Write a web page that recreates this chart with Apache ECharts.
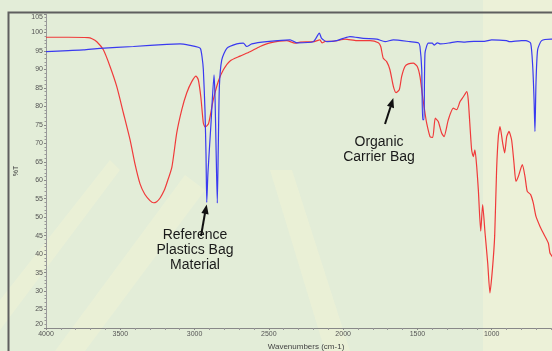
<!DOCTYPE html>
<html>
<head>
<meta charset="utf-8">
<script src="https://cdn.jsdelivr.net/npm/echarts@6/dist/echarts.min.js"></script>
<style>
html,body{margin:0;padding:0;background:#e3edd8;}
#chart{width:552px;height:351px;}
</style>
</head>
<body>
<div id="chart"></div>
<script>
// Wavenumber (cm-1), %T
var organicCarrierBag = [
  [4000,98.7],[3850,98.7],[3717,98.6],[3690,98.3],[3658,97.5],[3614,95.3],[3569,90.8],[3524,85.4],
  [3479,78.2],[3434,70.9],[3400,64.2],[3367,59.0],[3335,56.2],[3300,54.5],[3277,53.9],[3255,54.2],
  [3232,55.2],[3205,57.2],[3187,59.2],[3153,63.5],[3120,72.8],[3086,79.1],[3053,83.6],[3019,86.7],
  [2990,88.2],[2975,87.2],[2958,82.6],
  [2941,75.5],[2929,74.4],[2907,75.2],[2891,78.2],[2874,81.8],[2840,86.8],[2806,89.9],[2761,92.3],
  [2694,93.6],[2627,94.8],[2559,96.2],[2492,97.2],[2380,97.8],[2324,97.1],[2290,97.4],[2201,97.5],
  [2156,98.0],[2142,97.2],[2120,97.6],[2066,97.6],[1987,98.2],[1909,97.8],[1819,97.8],[1763,97.2],
  [1747,96.2],[1730,93.0],[1707,92.1],[1685,89.9],[1662,85.4],[1644,83.7],[1622,84.5],[1606,88.1],
  [1584,90.8],[1561,91.5],[1528,91.7],[1501,90.8],[1483,88.1],[1465,82.6],[1449,78.2],[1438,75.5],
  [1415,71.8],[1397,71.6],[1380,76.8],[1360,75.9],[1337,72.8],[1321,71.8],[1292,76.4],[1259,79.5],
  [1236,79.1],[1213,81.3],[1191,82.6],[1168,84.0],[1158,81.8],[1146,74.5],[1135,68.2],[1124,66.4],
  [1113,68.2],[1101,63.7],[1090,57.4],[1074,46.2],[1061,53.4],[1045,45.8],[1027,37.6],[1012,29.5],
  [995,36.0],[980,45.0],[967,63.0],[955,72.0],[944,74.5],[926,70.0],[913,67.4],[899,71.8],
  [884,73.2],[866,70.9],[850,64.6],[837,59.7],[821,61.0],[794,64.2],[776,61.0],[761,57.0],
  [738,56.1],[720,53.8],[702,50.2],[675,47.5],[653,45.7],[619,43.0],[608,40.3],[594,39.4],[570,38.0]
];
var referencePlasticsBag = [
  [4000,94.8],[3850,95.1],[3748,95.3],[3636,95.7],[3412,96.2],[3187,96.8],[3098,96.9],[3030,96.5],
  [2975,96.0],[2960,95.6],[2950,93.5],[2941,90.0],[2930,79.0],[2923,67.0],[2918,54.0],[2910,62.0],
  [2890,75.0],[2869,88.5],[2862,82.0],[2855,68.0],[2847,53.8],[2840,70.0],[2833,85.4],[2817,92.6],
  [2783,95.7],[2716,96.9],[2672,97.1],[2649,96.2],[2615,96.9],[2514,97.5],[2357,98.0],[2312,97.2],
  [2201,97.5],[2160,99.8],[2145,98.4],[2110,97.5],[2043,97.8],[1999,98.4],[1954,98.9],[1864,98.4],
  [1774,98.2],[1718,97.5],[1662,98.0],[1550,97.5],[1494,97.2],[1483,96.2],[1471,89.9],[1465,76.4],
  [1456,76.4],[1449,94.4],[1427,97.1],[1400,97.1],[1388,96.6],[1365,97.2],[1345,96.9],[1280,97.2],
  [1230,97.5],[1180,97.4],[1120,97.6],[1050,97.6],[1000,98.0],[900,97.8],[880,97.5],[800,97.8],
  [770,97.8],[738,97.1],[724,90.8],[715,81.8],[709,73.2],[702,86.3],[691,95.3],[664,97.8],[600,98.2],[560,98.2]
];
var yTicks = [20,105,5];
var xTicks = [500,4000,500];

var chart = echarts.init(document.getElementById('chart'), null, {renderer:'canvas'});
var labelFont = {fontFamily:'Liberation Sans, Arial, sans-serif', fontSize:7, color:'#555'};
var annFont = '14px "Liberation Sans", Arial, sans-serif';
function plain(v){ return String(v); }
chart.setOption({
  backgroundColor:'#e3edd8',
  animation:false,
  graphic:[
    {type:'rect', z:-10, silent:true, shape:{x:483,y:0,width:80,height:351}, style:{fill:'rgba(245,245,215,0.5)'}},
    {type:'polygon', z:-10, silent:true, shape:{points:[[0,300],[0,330],[120,170],[110,160]]}, style:{fill:'rgba(246,246,212,0.4)'}},
    {type:'polygon', z:-10, silent:true, shape:{points:[[55,351],[85,351],[205,190],[185,175]]}, style:{fill:'rgba(246,246,212,0.4)'}},
    {type:'polygon', z:-10, silent:true, shape:{points:[[270,170],[292,170],[350,351],[325,351]]}, style:{fill:'rgba(246,246,212,0.4)'}},
    {type:'rect', z:-5, silent:true, shape:{x:8.5,y:12.5,width:600,height:400}, style:{fill:'none', stroke:'#5f5f5f', lineWidth:2}},
    {type:'text', z:50, style:{text:'Reference\nPlastics Bag\nMaterial', x:195, y:250, textAlign:'center', textVerticalAlign:'middle', font:annFont, fill:'#1a1a1a', lineHeight:15}},
    {type:'polyline', z:50, shape:{points:[[201,236],[205,213]]}, style:{stroke:'#111', lineWidth:2}},
    {type:'polygon', z:50, shape:{points:[[206.7,204.5],[208.6,214.5],[201.4,213.1]]}, style:{fill:'#111'}},
    {type:'text', z:50, style:{text:'Organic\nCarrier Bag', x:379, y:149.5, textAlign:'center', textVerticalAlign:'middle', font:annFont, fill:'#1a1a1a', lineHeight:15.5}},
    {type:'polyline', z:50, shape:{points:[[385,124],[390.5,107]]}, style:{stroke:'#111', lineWidth:2}},
    {type:'polygon', z:50, shape:{points:[[393.3,98],[394,108.2],[387,105.8]]}, style:{fill:'#111'}}
  ],
  grid:{left:46, top:14, width:520, height:314, containLabel:false, outerBoundsMode:'none'},
  xAxis:{
    type:'value', inverse:true, min:xTicks[0], max:xTicks[1], interval:xTicks[2],
    name:'Wavenumbers (cm-1)', nameLocation:'middle', nameGap:13,
    nameTextStyle:{fontFamily:'Liberation Sans, Arial, sans-serif', fontSize:8, color:'#444'},
    axisLine:{show:true, onZero:false, lineStyle:{color:'#888', width:1}},
    axisTick:{show:true, length:2, inside:false, lineStyle:{color:'#888'}},
    minorTick:{show:true, splitNumber:5, length:2, lineStyle:{color:'#999'}},
    splitLine:{show:false},
    axisLabel:Object.assign({margin:3, formatter:plain}, labelFont)
  },
  yAxis:{
    type:'value', min:yTicks[0], max:yTicks[1], interval:yTicks[2],
    name:'%T', nameLocation:'middle', nameGap:26, nameRotate:90,
    nameTextStyle:{fontFamily:'Liberation Sans, Arial, sans-serif', fontSize:7, color:'#444'},
    axisLine:{show:true, lineStyle:{color:'#999', width:1}},
    axisTick:{show:true, length:2, lineStyle:{color:'#888'}},
    minorTick:{show:true, splitNumber:5, length:1.5, lineStyle:{color:'#999'}},
    splitLine:{show:false},
    axisLabel:Object.assign({margin:3, formatter:plain, verticalAlignMaxLabel:'top', verticalAlignMinLabel:'bottom'}, labelFont)
  },
  series:[
    {type:'line', name:'Organic Carrier Bag', data:organicCarrierBag, showSymbol:false, symbol:'none', smooth:0.2,
     lineStyle:{color:'#f03a3a', width:1.2}, z:3},
    {type:'line', name:'Reference Plastics Bag', data:referencePlasticsBag, showSymbol:false, symbol:'none', smooth:0.2,
     lineStyle:{color:'#3a3af0', width:1.2}, z:4}
  ]
});
</script>
</body>
</html>
